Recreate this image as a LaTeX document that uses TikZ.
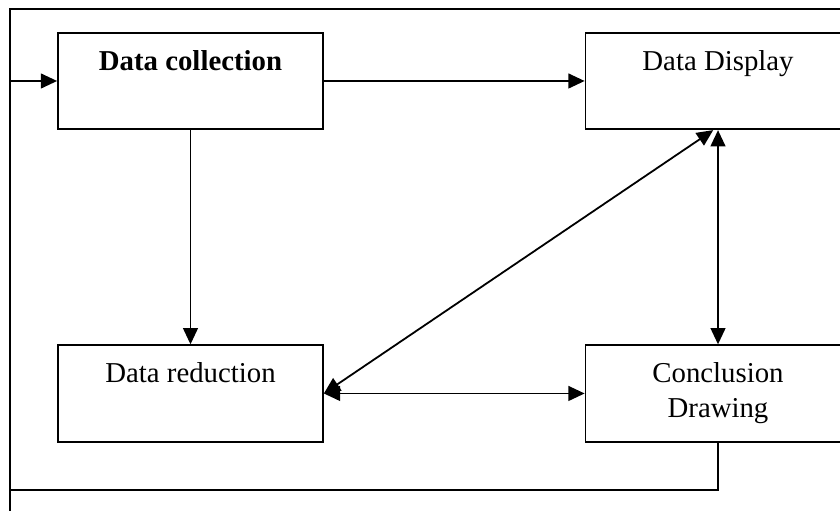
\documentclass[tikz,border=0pt]{standalone}
\usepackage{fontspec}
\setmainfont{Liberation Serif}
\usetikzlibrary{arrows.meta}

\begin{document}
\begin{tikzpicture}[x=0.41667pt,y=-0.41667pt,node distance=219.8pt,>={Triangle[length=6.8pt,width=6.2pt]},line width=0.75pt]

    \tikzstyle{block}=[rectangle,draw=black,minimum width=110.4pt,minimum height=40.2pt,align=center,font=\fontsize{12}{14.6}\selectfont]

    \useasboundingbox (0,0) rectangle (840,511);
    \clip (0,0) rectangle (840,511);

    % outer frame
    \coordinate (ftl) at (10,9);
    \draw (850,9) -- (ftl) -- (10,520);

    \begin{scope}
        \node [block] (dc) at (190.5,81) {\strut\textbf{Data collection}\\ \strut};
        \node [block] (dd) [right of=dc] {\strut Data Display\\ \strut};
        \node [block] (dr) [below of=dc, node distance=130.2pt] {\strut Data reduction\\ \strut};
        \node [block] (cd) [right of=dr] {\strut Conclusion\\ \strut Drawing};
    \end{scope}

    \draw [->] (dc) -- (dd);
    \draw [->] (dc) -- (dr);
    \draw [<->] (dd) -- (cd);
    \draw [<->] (dr.east) -- ([xshift=-2pt]dd.south);
    \draw [<->] (dr) -- (cd);

    % feedback loop
    \coordinate (fb) at (10,490);
    \draw [->] (cd.south) |- (fb) |- (dc.west);
\end{tikzpicture}
\end{document}
